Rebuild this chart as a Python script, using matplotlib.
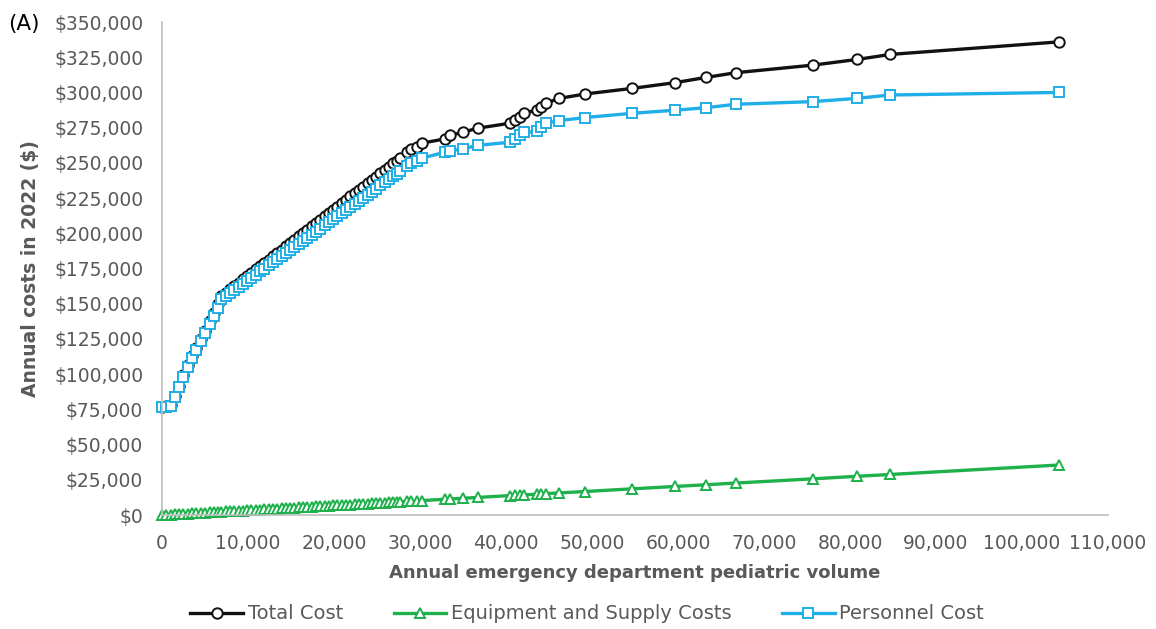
# ============================================================
# ANNUAL COSTS VS PEDIATRIC VOLUME - PANEL (A)
# ============================================================

import matplotlib
matplotlib.use("Agg")
import matplotlib.pyplot as plt
from matplotlib.ticker import FuncFormatter

# ============================================================
# 1. DADOS
# ============================================================

volume = [
    0, 450, 1000, 1500, 2000, 2500, 3000, 3550, 4000, 4550,
    5000, 5550, 6000, 6500, 6900, 7400, 7900, 8400, 8900, 9400,
    9900, 10400, 10900, 11400, 11900, 12400, 12900, 13400, 13900, 14400,
    14900, 15400, 15900, 16400, 16900, 17400, 17900, 18400, 18900, 19400,
    19900, 20400, 20900, 21400, 21900, 22400, 22900, 23400, 23900, 24400,
    24900, 25400, 25900, 26400, 26900, 27300, 27700, 28500, 29000, 29600,
    30200, 32900, 33500, 35000, 36700, 40500, 41000, 41600, 42100, 43600,
    44100, 44600, 46200, 49200, 54700, 59700, 63300, 66700, 75700, 80800,
    84700, 104300
]

total_cost = [
    77000, 77200, 77800, 84500, 91900, 99200, 106400, 112700, 118600, 124900,
    130600, 137500, 143400, 149500, 155600, 157900, 160300, 162700, 165000, 167300,
    169700, 172000, 174400, 176800, 179100, 181400, 183800, 186200, 188500, 190900,
    193200, 195500, 197900, 200300, 202700, 204900, 207300, 209700, 212000, 214400,
    216800, 219000, 221400, 223800, 226200, 228500, 230800, 233200, 235500, 237900,
    240300, 242600, 244900, 247300, 249700, 251500, 253800, 257600, 260000, 261500,
    264000, 267000, 269500, 271800, 274600, 278200, 280500, 282900, 285200, 287600,
    290000, 292300, 295800, 298900, 302900, 307000, 310700, 314000, 319400, 323400,
    327000, 335900
]

equipment_cost = [
    0, 150, 340, 510, 680, 850, 1020, 1210, 1360, 1550,
    1700, 1890, 2040, 2210, 2350, 2520, 2690, 2860, 3030, 3200,
    3370, 3540, 3710, 3880, 4050, 4220, 4390, 4560, 4730, 4900,
    5070, 5240, 5410, 5580, 5750, 5920, 6090, 6260, 6430, 6600,
    6770, 6940, 7110, 7280, 7450, 7620, 7790, 7960, 8130, 8300,
    8470, 8640, 8810, 8980, 9150, 9280, 9420, 9690, 9860, 10060,
    10270, 11200, 11400, 11900, 12500, 13800, 13900, 14100, 14300, 14800,
    15000, 15200, 15700, 16700, 18600, 20300, 21500, 22700, 25700, 27500,
    28800, 35500
]

personnel_cost = [
    77000, 77000, 77500, 84000, 91200, 98300, 105400, 111500, 117200, 123300,
    128900, 135600, 141400, 147300, 153200, 155400, 157600, 159800, 162000, 164100,
    166300, 168500, 170700, 172900, 175000, 177200, 179400, 181600, 183800, 186000,
    188100, 190300, 192500, 194700, 196900, 199000, 201200, 203400, 205600, 207800,
    210000, 212100, 214300, 216500, 218700, 220900, 223000, 225200, 227400, 229600,
    231800, 234000, 236100, 238300, 240500, 242200, 244000, 247500, 249900, 251100,
    253400, 257500, 258500, 260000, 262400, 264700, 267100, 269500, 271800, 272300,
    275300, 278200, 280000, 282200, 285200, 287400, 289200, 291600, 293500, 295800,
    298200, 300000
]

x_ticks = list(range(0, 110001, 10000))
y_ticks = list(range(0, 350001, 25000))

# ============================================================
# 2. CONFIGURAÇÃO
# ============================================================

plt.rcParams["font.family"] = ["DejaVu Sans"]

COR_TEXTO = "#595959"
COR_EIXO = "#BFBFBF"

fig = plt.figure(figsize=(11.56, 6.29), dpi=100)
ax = fig.add_axes([0.1401, 0.1812, 0.8184, 0.7838])

# ============================================================
# 3. SÉRIES
# ============================================================

ax.plot(
    volume,
    total_cost,
    color="#111111",
    linewidth=2.4,
    marker="o",
    markersize=7.5,
    markerfacecolor="white",
    markeredgecolor="#111111",
    markeredgewidth=1.4,
    label="Total Cost",
    clip_on=False
)

ax.plot(
    volume,
    equipment_cost,
    color="#1DB04B",
    linewidth=2.4,
    marker="^",
    markersize=7,
    markerfacecolor="white",
    markeredgecolor="#1DB04B",
    markeredgewidth=1.4,
    label="Equipment and Supply Costs",
    clip_on=False
)

ax.plot(
    volume,
    personnel_cost,
    color="#1FAEE6",
    linewidth=2.4,
    marker="s",
    markersize=7,
    markerfacecolor="white",
    markeredgecolor="#1FAEE6",
    markeredgewidth=1.4,
    label="Personnel Cost",
    clip_on=False
)

# ============================================================
# 4. EIXOS
# ============================================================

ax.set_xlim(0, 110000)
ax.set_ylim(0, 350000)

ax.set_xticks(x_ticks)
ax.set_yticks(y_ticks)

ax.xaxis.set_major_formatter(FuncFormatter(lambda v, p: f"{int(v):,}"))
ax.yaxis.set_major_formatter(FuncFormatter(lambda v, p: f"${int(v):,}"))

ax.tick_params(
    axis="both",
    length=0,
    labelsize=13.5,
    labelcolor=COR_TEXTO
)
ax.tick_params(axis="y", pad=13.5)
ax.tick_params(axis="x", pad=13.5)

for lado in ["top", "right"]:
    ax.spines[lado].set_visible(False)

for lado in ["left", "bottom"]:
    ax.spines[lado].set_color(COR_EIXO)
    ax.spines[lado].set_linewidth(1.2)

ax.set_xlabel(
    "Annual emergency department pediatric volume",
    fontsize=13,
    fontweight="bold",
    color=COR_TEXTO,
    labelpad=8
)

ax.set_ylabel(
    "Annual costs in 2022 ($)",
    fontsize=13.5,
    fontweight="bold",
    color=COR_TEXTO,
    labelpad=10
)

# ============================================================
# 5. LEGENDA E RÓTULO DO PAINEL
# ============================================================

fig.legend(
    loc="center",
    bbox_to_anchor=(0.508, 0.024),
    ncol=3,
    frameon=False,
    fontsize=14,
    labelcolor=COR_TEXTO,
    handlelength=2.7,
    columnspacing=2.6,
    handletextpad=0.25
)

fig.text(
    0.007,
    0.962,
    "(A)",
    fontsize=15.5,
    color="black",
    va="center"
)

# ============================================================
# 6. EXPORTAR
# ============================================================

plt.savefig("out.png", dpi=100)

plt.close()
